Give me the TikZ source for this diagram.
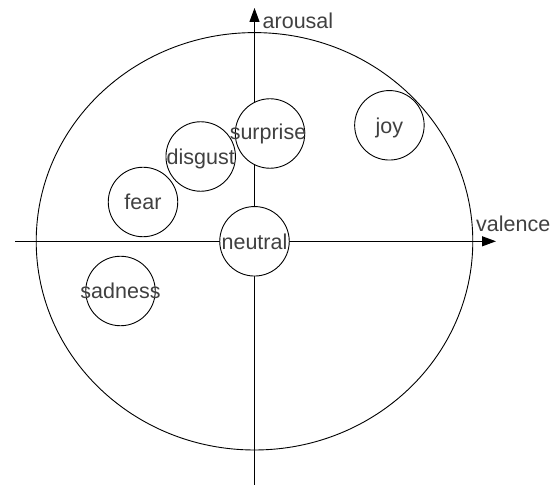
\documentclass[tikz,border=0pt]{standalone}
\usepackage{fontspec}
\setmainfont{Liberation Sans}
\usetikzlibrary{arrows.meta}
\definecolor{txt}{RGB}{64,64,64}
\begin{document}
\begin{tikzpicture}[x=1pt,y=-1pt,
  emo/.style={circle,draw,fill=white,minimum size=69.5pt,inner sep=0pt,line width=0.9pt},
  lbl/.style={text=txt,font=\fontsize{21.5}{25}\selectfont,inner sep=0pt,anchor=base},
  axisline/.style={line width=1.1pt,-{Triangle[length=14pt,width=10pt]}}]
\useasboundingbox (0,0) rectangle (555,486);
\coordinate (O) at (254.5,241.3);
\draw[line width=0.9pt] (O) ellipse [x radius=218.3, y radius=208.7];
\coordinate (xs) at (15,241.3);
\coordinate (xe) at (496,241.3);
\coordinate (ys) at (254.5,485);
\coordinate (ye) at (254.5,8);
\draw[axisline] (xs) -- (xe);
\draw[axisline] (ys) -- (ye);
\node[emo] (surprise) at (270,133.5) {};
\node[emo] (joy) at (389.4,125.3) {};
\node[emo] (disgust) at (200.7,156.5) {};
\node[emo] (fear) at (143,202) {};
\node[emo] (neutral) at (O) {};
\node[emo] (sadness) at (120.5,291) {};
\node[lbl] (tsurprise) at ([xshift=-2pt,yshift=-6.5pt]surprise.center) {surprise};
\node[lbl] (tjoy) at ([yshift=-8pt]joy.center) {joy};
\node[lbl] (tdisgust) at ([yshift=-8pt]disgust.center) {disgust};
\node[lbl] (tfear) at ([yshift=-8pt]fear.center) {fear};
\node[lbl] (tneutral) at ([yshift=-8pt]neutral.center) {neutral};
\node[lbl] (tsadness) at ([yshift=-8pt]sadness.center) {sadness};
\node[lbl,anchor=base west] (tarousal) at (262.5,29) {arousal};
\node[lbl,anchor=base west] (tvalence) at (476,232) {valence};
\end{tikzpicture}
\end{document}
